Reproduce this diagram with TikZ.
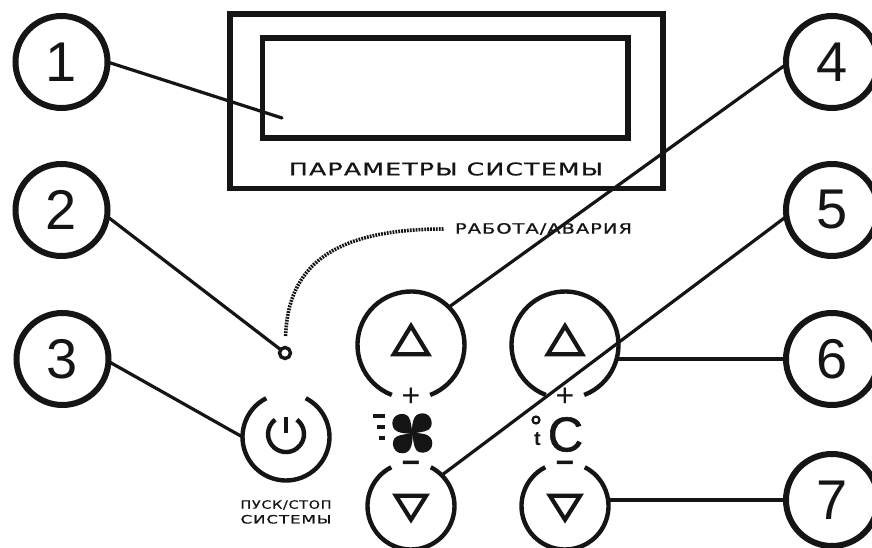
\documentclass[tikz,border=0pt]{standalone}
\usepackage{graphicx}
\usepackage{fontspec}
\setmainfont{Liberation Sans}
\newfontfamily\widefont[FakeBold=0.7,LetterSpace=5]{DejaVu Sans}
\newfontfamily\heavyfont[FakeBold=1.2]{Liberation Sans}
\definecolor{ink}{HTML}{151515}
\tikzset{
  numcirc/.style={circle,draw=ink,line width=6pt,minimum size=92pt,inner sep=0pt,outer sep=0pt,text=ink,font=\fontsize{56}{56}\selectfont},
  panel/.style={rectangle,draw=ink,line width=5.5pt,inner sep=0pt,outer sep=0pt},
  leader/.style={draw=ink,line width=3.2pt},
  ring/.style={draw=ink,line width=4.4pt},
  tri/.style={draw=ink,line width=4.2pt,line join=miter},
  hole/.style={circle,inner sep=0pt,outer sep=0pt},
  lbl/.style={inner sep=0pt,outer sep=0pt,text=ink}
}
\newcommand{\fitlabel}[3]{\resizebox{#1pt}{#2pt}{\widefont #3}}
\begin{document}
\begin{tikzpicture}[x=1pt,y=1pt]
\useasboundingbox (0,0) rectangle (872,548);
\fill[white] (0,0) rectangle (872,548);
% panel
\node[panel,minimum width=433pt,minimum height=174.5pt] (outer) at (446.5,446.75) {};
\node[panel,minimum width=365.5pt,minimum height=99.7pt] (inner) at (445.4,460) {};
\node[lbl] (ptext) at (446,379) {\fitlabel{314}{13}{ПАРАМЕТРЫ СИСТЕМЫ}};
\node[lbl] (wtext) at (543.5,319) {\fitlabel{177}{10.5}{РАБОТА/АВАРИЯ}};
% number circles
\node[numcirc] (n1) at (61.5,486) {1};
\node[numcirc] (n2) at (61.5,338) {2};
\node[numcirc] (n3) at (62.5,189) {3};
\node[numcirc] (n4) at (832,486) {4};
\node[numcirc] (n5) at (832,338) {5};
\node[numcirc] (n6) at (832,189) {6};
\node[numcirc] (n7) at (832,48) {7};
% LED
\node[hole,draw=ink,line width=3.4pt,minimum size=11pt] (led) at (285,195) {};
% buttons
\node[hole,minimum size=87pt] (p) at (286,111) {};
\node[hole,minimum size=107pt] (b1) at (411,203) {};
\node[hole,minimum size=107pt] (b2) at (565,203) {};
\node[hole,minimum size=87pt] (b3) at (411,42) {};
\node[hole,minimum size=87pt] (b4) at (565,42) {};
\draw[ring] (p.117) arc[start angle=117,end angle=423,radius=43.5pt];
\draw[ring] (b1.-69) arc[start angle=-69,end angle=249,radius=53.5pt];
\draw[ring] (b2.-69) arc[start angle=-69,end angle=249,radius=53.5pt];
\draw[ring] (b3.117) arc[start angle=117,end angle=423,radius=43.5pt];
\draw[ring] (b4.117) arc[start angle=117,end angle=423,radius=43.5pt];
% triangles
\draw[tri] (393.8,193.75) -- (411,222) -- (428.2,193.75) -- cycle;
\draw[tri] (547.8,193.75) -- (565,222) -- (582.2,193.75) -- cycle;
\draw[tri] (395.9,52.25) -- (411,28.3) -- (426.1,52.25) -- cycle;
\draw[tri] (549.9,52.25) -- (565,28.3) -- (580.1,52.25) -- cycle;
% power icon
\draw[ring] (275.2,128.3) arc[start angle=127,end angle=413,radius=18pt];
\draw[ring] (286,131) -- (286,115);
% plus and minus
\node[lbl,font=\fontsize{32}{32}\selectfont] (pl1) at (411,151) {+};
\node[lbl,font=\fontsize{32}{32}\selectfont] (pl2) at (565,151) {+};
\node[lbl,font=\fontsize{32}{32}\selectfont\bfseries] (mi1) at (411,81) {−};
\node[lbl,font=\fontsize{32}{32}\selectfont\bfseries] (mi2) at (565,81) {−};
% fan
\foreach \a in {0,90,180,270} {
  \begin{scope}[shift={(412.3,114.7)},rotate=\a]
    \fill[ink] (0.5,-0.5) .. controls (-6,0) and (-20,-1) .. (-20,10) .. controls (-20,20) and (-7,22) .. (-3.5,16) .. controls (-1,12) and (-1,5) .. (0.5,-0.5) -- cycle;
  \end{scope}
}
\fill[ink] (373.3,129.7) rectangle (385,133.7);
\fill[ink] (376.7,119) rectangle (385,123);
\fill[ink] (379,108) rectangle (385,112.3);
% temperature
\node[lbl,font=\fontsize{49}{49}\heavyfont] (cc) at (565.5,113.5) {C};
\node[lbl,font=\fontsize{20}{20}\selectfont\bfseries] (tt) at (537.5,108.5) {t};
\node[hole,draw=ink,line width=2.2pt,minimum size=7pt] (deg) at (536,128) {};
% power label
\node[lbl] (s1) at (286,43) {\fitlabel{91}{8.5}{ПУСК/СТОП}};
\node[lbl] (s2) at (286,28.7) {\fitlabel{91}{8.5}{СИСТЕМЫ}};
% dotted curve
\coordinate (dstart) at (285.6,212);
\coordinate (dend) at (444,319);
\draw[ink,line width=3.6pt,dash pattern=on 1.8pt off 1.1pt] (dstart) .. controls (288,280) and (330,319) .. (dend);
% connectors
\coordinate (disp) at (282,430);
\draw[leader,line cap=round] (n1.0) -- (disp);
\draw[leader] (n2.-8) -- (led);
\draw[leader] (n3.-3) -- (p.180);
\draw[leader] (n4.183.5) -- (b1.45);
\draw[leader] (n5.188) -- (b3.45);
\coordinate (b2r) at (617,189);
\coordinate (b4r) at (608.5,48);
\draw[leader] (n6.180) -- (b2r);
\draw[leader] (n7.180) -- (b4r);
\end{tikzpicture}
\end{document}
